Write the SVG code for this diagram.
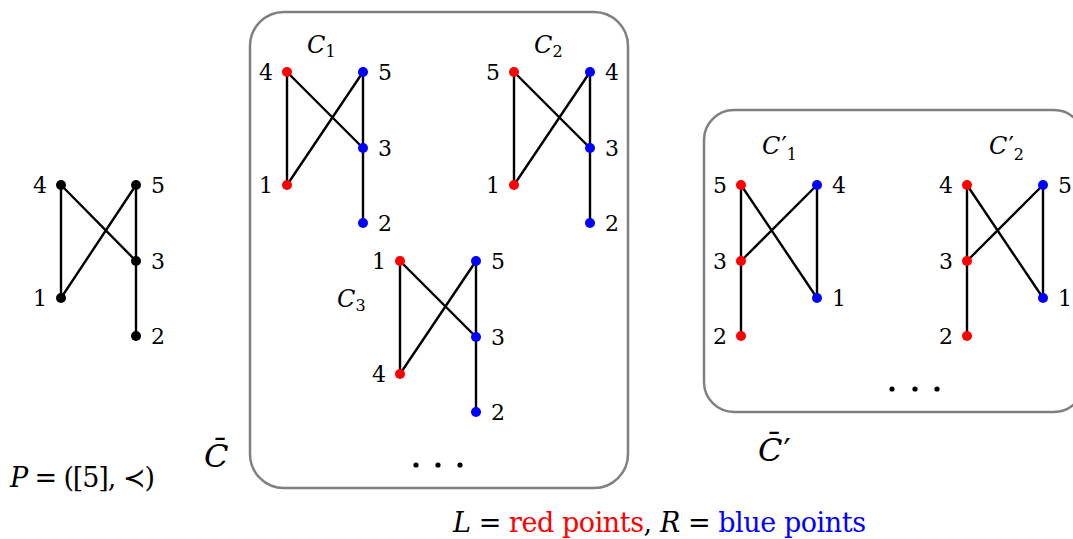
<svg xmlns="http://www.w3.org/2000/svg" width="1073" height="539" viewBox="0 0 1073 539">
<style>
.dummy{}
.it{font-style:italic}
.up{font-style:normal}
.big{font-size:32px}
.mid{font-size:27px}
.l{text-anchor:end}
.e line{stroke:#000;stroke-width:2.4;stroke-linecap:round}
.box{fill:none;stroke:#808080;stroke-width:2.5}
.k{fill:#000}.r{fill:#ff0000}.b{fill:#0000ff}
.dot{fill:#000}
</style>
<rect class="box" x="250" y="12" width="378" height="476" rx="34"/>
<rect class="box" x="704" y="110" width="380" height="302" rx="30"/>
<g id="connectors" class="e">
<line x1="61" y1="185" x2="61" y2="298"/><line x1="61" y1="185" x2="136" y2="261"/><line x1="136" y1="185" x2="61" y2="298"/><line x1="136" y1="185" x2="136" y2="261"/><line x1="136" y1="261" x2="136" y2="336"/>
<line x1="287" y1="72" x2="287" y2="185"/><line x1="287" y1="72" x2="363" y2="148"/><line x1="363" y1="72" x2="287" y2="185"/><line x1="363" y1="72" x2="363" y2="148"/><line x1="363" y1="148" x2="363" y2="223"/>
<line x1="514" y1="72" x2="514" y2="185"/><line x1="514" y1="72" x2="590" y2="148"/><line x1="590" y1="72" x2="514" y2="185"/><line x1="590" y1="72" x2="590" y2="148"/><line x1="590" y1="148" x2="590" y2="223"/>
<line x1="400" y1="261" x2="400" y2="374"/><line x1="400" y1="261" x2="476" y2="337"/><line x1="476" y1="261" x2="400" y2="374"/><line x1="476" y1="261" x2="476" y2="337"/><line x1="476" y1="337" x2="476" y2="412"/>
<line x1="741" y1="185" x2="741" y2="261"/><line x1="741" y1="185" x2="817" y2="298"/><line x1="741" y1="261" x2="817" y2="185"/><line x1="817" y1="185" x2="817" y2="298"/><line x1="741" y1="261" x2="741" y2="336"/>
<line x1="967" y1="185" x2="967" y2="261"/><line x1="967" y1="185" x2="1043" y2="298"/><line x1="967" y1="261" x2="1043" y2="185"/><line x1="1043" y1="185" x2="1043" y2="298"/><line x1="967" y1="261" x2="967" y2="336"/>
</g>
<g font-family="DejaVu Serif, serif" font-size="22" fill="#000">
<g id="P">
<circle class="k" cx="61" cy="185" r="5"/><text class="l" x="47" y="193">4</text>
<circle class="k" cx="136" cy="185" r="5"/><text x="151" y="193">5</text>
<circle class="k" cx="136" cy="261" r="5"/><text x="151" y="269">3</text>
<circle class="k" cx="61" cy="298" r="5"/><text class="l" x="47" y="306">1</text>
<circle class="k" cx="136" cy="336" r="5"/><text x="151" y="344">2</text>
<text class="mid" x="10" y="487" textLength="145" lengthAdjust="spacing"><tspan class="it">P</tspan> = ([5], ≺)</text>
</g>
<g id="C1">
<text class="it" font-size="24" x="307" y="53">C<tspan font-size="16" class="up" dy="4">1</tspan></text>
<circle class="r" cx="287" cy="72" r="5"/><text class="l" x="273" y="80">4</text>
<circle class="b" cx="363" cy="72" r="5"/><text x="378" y="80">5</text>
<circle class="b" cx="363" cy="148" r="5"/><text x="378" y="156">3</text>
<circle class="r" cx="287" cy="185" r="5"/><text class="l" x="273" y="193">1</text>
<circle class="b" cx="363" cy="223" r="5"/><text x="378" y="231">2</text>
</g>
<g id="C2">
<text class="it" font-size="24" x="534" y="53">C<tspan font-size="16" class="up" dy="4">2</tspan></text>
<circle class="r" cx="514" cy="72" r="5"/><text class="l" x="500" y="80">5</text>
<circle class="b" cx="590" cy="72" r="5"/><text x="605" y="80">4</text>
<circle class="b" cx="590" cy="148" r="5"/><text x="605" y="156">3</text>
<circle class="r" cx="514" cy="185" r="5"/><text class="l" x="500" y="193">1</text>
<circle class="b" cx="590" cy="223" r="5"/><text x="605" y="231">2</text>
</g>
<g id="C3">
<text class="it" font-size="24" x="337" y="307">C<tspan font-size="16" class="up" dy="4">3</tspan></text>
<circle class="r" cx="400" cy="261" r="5"/><text class="l" x="386" y="269">1</text>
<circle class="b" cx="476" cy="261" r="5"/><text x="491" y="269">5</text>
<circle class="b" cx="476" cy="337" r="5"/><text x="491" y="345">3</text>
<circle class="r" cx="400" cy="374" r="5"/><text class="l" x="386" y="382">4</text>
<circle class="b" cx="476" cy="412" r="5"/><text x="491" y="420">2</text>
</g>
<g id="Cbar">
<circle class="dot" cx="416" cy="465" r="2.6"/><circle class="dot" cx="438" cy="465" r="2.6"/><circle class="dot" cx="460" cy="465" r="2.6"/>
<text class="it big" x="204" y="467">C̄</text>
</g>
<g id="C1p">
<text class="it" font-size="24" x="762" y="154">C<tspan class="up" dx="1">′</tspan><tspan font-size="16" class="up" dy="6">1</tspan></text>
<circle class="r" cx="741" cy="185" r="5"/><text class="l" x="727" y="193">5</text>
<circle class="b" cx="817" cy="185" r="5"/><text x="832" y="193">4</text>
<circle class="r" cx="741" cy="261" r="5"/><text class="l" x="727" y="269">3</text>
<circle class="b" cx="817" cy="298" r="5"/><text x="832" y="306">1</text>
<circle class="r" cx="741" cy="336" r="5"/><text class="l" x="727" y="344">2</text>
</g>
<g id="C2p">
<text class="it" font-size="24" x="989" y="154">C<tspan class="up" dx="1">′</tspan><tspan font-size="16" class="up" dy="6">2</tspan></text>
<circle class="r" cx="967" cy="185" r="5"/><text class="l" x="953" y="193">4</text>
<circle class="b" cx="1043" cy="185" r="5"/><text x="1058" y="193">5</text>
<circle class="r" cx="967" cy="261" r="5"/><text class="l" x="953" y="269">3</text>
<circle class="b" cx="1043" cy="298" r="5"/><text x="1058" y="306">1</text>
<circle class="r" cx="967" cy="336" r="5"/><text class="l" x="953" y="344">2</text>
</g>
<g id="Cbarp">
<circle class="dot" cx="892" cy="389" r="2.6"/><circle class="dot" cx="915" cy="389" r="2.6"/><circle class="dot" cx="937" cy="389" r="2.6"/>
<text class="it big" x="758" y="461">C̄<tspan class="up" dx="1">′</tspan></text>
</g>
<g id="legend">
<text class="mid" x="453" y="532" textLength="413" lengthAdjust="spacing"><tspan class="it">L</tspan> = <tspan fill="#ff0000">red points</tspan>, <tspan class="it">R</tspan> = <tspan fill="#0000ff">blue points</tspan></text>
</g>
</g>
</svg>
